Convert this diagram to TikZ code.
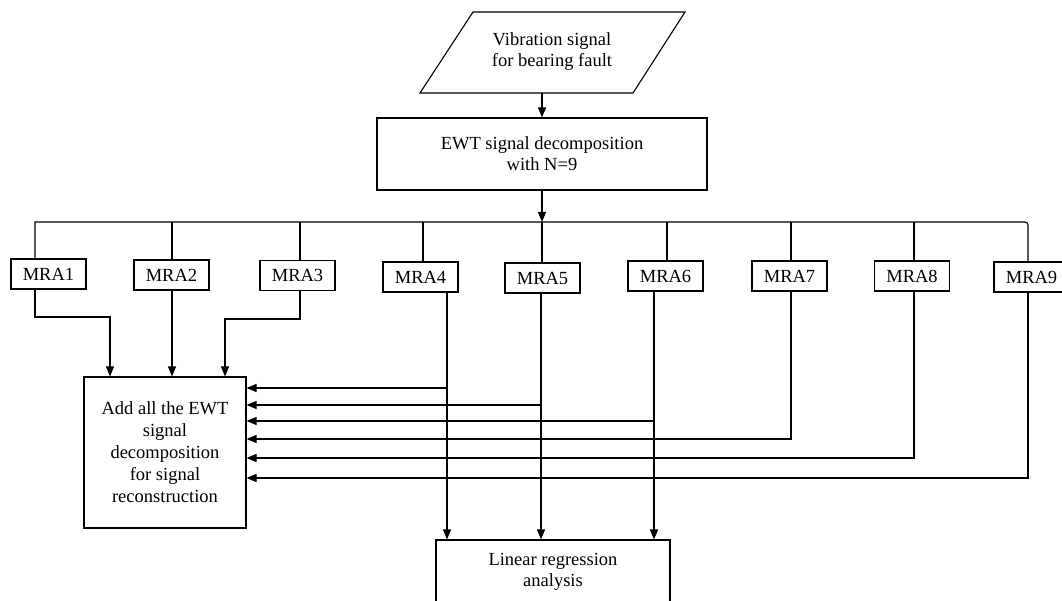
\documentclass[tikz,border=0pt]{standalone}
\usepackage{fontspec}
\setmainfont{Liberation Serif}
\usetikzlibrary{arrows.meta,calc}
\begin{document}
\begin{tikzpicture}[x=1pt,y=-1pt,line width=1.1pt,
  txt/.style={align=center, inner sep=0pt, font=\fontsize{18.5}{21}\selectfont},
  box/.style={draw, txt, line width=1.1pt},
  mra/.style={box, minimum width=75pt, minimum height=30pt},
  arr/.style={-{Triangle[length=10pt,width=8pt]}}]
\useasboundingbox (0,0) rectangle (1062,601);

% input parallelogram
\draw (420,93) -- (473,12) -- (685,12) -- (633,93) -- cycle;
\node[txt] (vib) at (552,52) {Vibration signal\\for bearing fault};
\coordinate (vibout) at (542,93);

\node[box, minimum width=330pt, minimum height=72pt] (ewt) at (542,154) {EWT signal decomposition\\with N=9};

% MRA boxes
\node[mra] (m1) at (48.5,274) {MRA1};
\node[mra] (m2) at (171.5,275) {MRA2};
\node[mra] (m3) at (297.5,275.5) {MRA3};
\node[mra] (m4) at (420.5,277) {MRA4};
\node[mra] (m5) at (542.5,278) {MRA5};
\node[mra] (m6) at (665.5,276) {MRA6};
\node[mra] (m7) at (789.5,276) {MRA7};
\node[mra] (m8) at (912,276) {MRA8};
\node[mra] (m9) at (1031.5,277) {MRA9};

\node[box, minimum width=162pt, minimum height=151pt, font=\fontsize{18.5}{22}\selectfont] (add) at (165,452.5)
  {Add all the EWT\\signal\\decomposition\\for signal\\reconstruction};
\node[box, minimum width=234pt, minimum height=64pt] (lin) at (553,572) {Linear regression\\analysis};

% bus coordinates
\coordinate (b1) at (35,222);
\coordinate (b2) at (172,222);
\coordinate (b3) at (300,222);
\coordinate (b4) at (423,222);
\coordinate (b5) at (542,222);
\coordinate (b6) at (667,222);
\coordinate (b7) at (791,222);
\coordinate (b8) at (914,222);
\coordinate (b9) at (1028,222);

\draw[arr] (vibout) -- (ewt.north);
\draw[arr] (ewt.south) -- (b5);
\draw (b1 |- m1.north) -- (b1) [rounded corners=3pt] -- (b9) -- (b9 |- m9.north);
\foreach \i in {2,...,8} { \draw (b\i) -- (b\i |- m\i.north); }

% left group to add box
\coordinate (k1) at (110,317);
\coordinate (k3) at (225,319);
\draw[arr] (m1.south -| b1) |- (k1) -- (k1 |- add.north);
\draw[arr] (m2.south -| b2) -- (b2 |- add.north);
\draw[arr] (m3.south -| b3) |- (k3) -- (k3 |- add.north);

% right group
\coordinate (j4) at (447,388);
\coordinate (j5) at (541,405);
\coordinate (j6) at (654,421);
\coordinate (j7) at (791,439);
\coordinate (j8) at (914,458);
\coordinate (j9) at (1028,478);
\foreach \i in {4,5,6} {
  \draw[arr] (m\i.south -| j\i) -- (j\i |- lin.north);
  \draw[arr] (j\i) -- (j\i -| add.east);
}
\foreach \i in {7,8,9} {
  \draw[arr] (m\i.south -| j\i) |- (add.east |- j\i);
}
\end{tikzpicture}
\end{document}
